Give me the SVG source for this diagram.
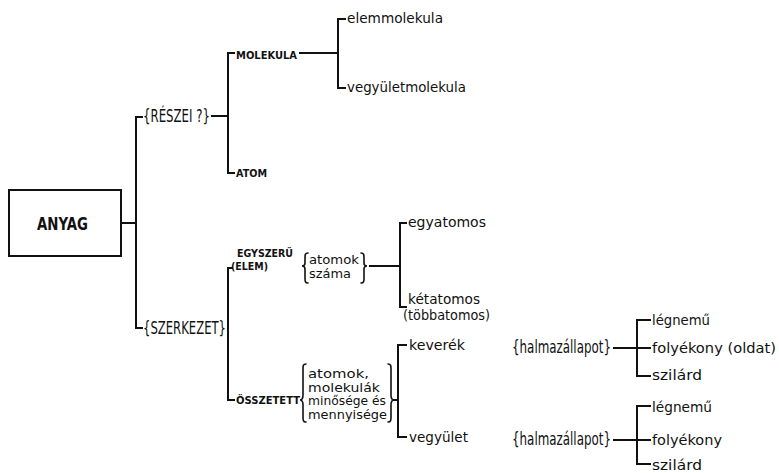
<svg xmlns="http://www.w3.org/2000/svg" width="779" height="473" viewBox="0 0 779 473">
<style>
.ln{fill:none;stroke:#111;stroke-width:2;stroke-linecap:square}
.br{fill:none;stroke:#111;stroke-width:1.6;stroke-linecap:round}
.cap{font-family:"DejaVu Sans","Liberation Sans",sans-serif;font-weight:bold;fill:#111}
.lo{font-family:"DejaVu Sans","Liberation Sans",sans-serif;fill:#111;font-size:14px}
.sm{font-family:"DejaVu Sans","Liberation Sans",sans-serif;fill:#111;font-size:11.6px}
.hd{font-family:"DejaVu Sans","Liberation Sans",sans-serif;fill:#111;font-size:17px}
</style>
<rect width="779" height="473" fill="#fff"/>
<g id="connectors">
<path class="ln" d="M121 223H136M136 117V328M136 117H142M136 328H142"/>
<path class="ln" d="M212 116H228M228 53V173M228 53H234M228 173H234"/>
<path class="ln" d="M300 53H338M338 19V88M338 19H345M338 88H345"/>
<path class="ln" d="M228 268V400M228 268H232M228 400H234"/>
<path class="ln" d="M370 266H400M400 223V307M400 223H406M400 307H406"/>
<path class="ln" d="M393 400H398M398 345V437M398 345H406M398 437H406"/>
<path class="ln" d="M614 348H650M637 320V376M637 320H650M637 376H650"/>
<path class="ln" d="M614 440H650M637 406V464M637 406H650M637 464H650"/>
</g>
<g id="anyag">
<rect x="9" y="190" width="112" height="66" fill="none" stroke="#111" stroke-width="2"/>
<text class="cap" x="37" y="230" font-size="17" textLength="51" lengthAdjust="spacingAndGlyphs">ANYAG</text>
</g>
<g id="reszei">
<text class="hd" x="143" y="122" textLength="67" lengthAdjust="spacingAndGlyphs">{RÉSZEI ?}</text>
</g>
<g id="molekula">
<text class="cap" x="236" y="59" font-size="11" textLength="61" lengthAdjust="spacingAndGlyphs">MOLEKULA</text>
</g>
<g id="elemmolekula">
<text class="lo" x="347" y="23" textLength="96" lengthAdjust="spacingAndGlyphs">elemmolekula</text>
</g>
<g id="vegyuletmolekula">
<text class="lo" x="347" y="92" textLength="119" lengthAdjust="spacingAndGlyphs">vegyületmolekula</text>
</g>
<g id="atom">
<text class="cap" x="236" y="177" font-size="11" textLength="31" lengthAdjust="spacingAndGlyphs">ATOM</text>
</g>
<g id="szerkezet">
<text class="hd" x="143" y="334" textLength="83" lengthAdjust="spacingAndGlyphs">{SZERKEZET}</text>
</g>
<g id="egyszeru">
<text class="cap" x="237" y="257" font-size="10" textLength="56" lengthAdjust="spacingAndGlyphs">EGYSZERŰ</text>
<text class="cap" x="231" y="270" font-size="10" textLength="37" lengthAdjust="spacingAndGlyphs">(ELEM)</text>
</g>
<g id="atomok-szama">
<path class="br" d="M308 253C305 253 305 255 305 258L305 263C305 265 304 266 302 266C304 266 305 267 305 269L305 278C305 281 305 283 308 283"/>
<text class="sm" x="309" y="264" textLength="50" lengthAdjust="spacingAndGlyphs">atomok</text>
<text class="sm" x="309" y="278" textLength="42" lengthAdjust="spacingAndGlyphs">száma</text>
<path class="br" d="M361 253C364 253 364 255 364 258L364 263C364 265 365 266 367 266C365 266 364 267 364 269L364 278C364 281 364 283 361 283"/>
</g>
<g id="egyatomos">
<text class="lo" x="408" y="227" textLength="78" lengthAdjust="spacingAndGlyphs">egyatomos</text>
</g>
<g id="ketatomos">
<text class="lo" x="408" y="304" textLength="72" lengthAdjust="spacingAndGlyphs">kétatomos</text>
<text class="lo" x="403" y="320" font-size="13" textLength="87" lengthAdjust="spacingAndGlyphs">(többatomos)</text>
</g>
<g id="osszetett">
<text class="cap" x="236" y="404" font-size="10" textLength="64" lengthAdjust="spacingAndGlyphs">ÖSSZETETT</text>
</g>
<g id="atomok-molekulak">
<path class="br" d="M306 364C303 364 303 366 303 369L303 395C303 398 302 400 300 400C302 400 303 402 303 405L303 417C303 420 303 422 306 422"/>
<text class="sm" x="308" y="378" textLength="61" lengthAdjust="spacingAndGlyphs">atomok,</text>
<text class="sm" x="308" y="391.5" textLength="72" lengthAdjust="spacingAndGlyphs">molekulák</text>
<text class="sm" x="308" y="405" textLength="78" lengthAdjust="spacingAndGlyphs">minősége és</text>
<text class="sm" x="308" y="418.5" textLength="79" lengthAdjust="spacingAndGlyphs">mennyisége</text>
<path class="br" d="M388 364C391 364 391 366 391 369L391 395C391 398 392 400 394 400C392 400 391 402 391 405L391 417C391 420 391 422 388 422"/>
</g>
<g id="keverek">
<text class="lo" x="409" y="350" textLength="56" lengthAdjust="spacingAndGlyphs">keverék</text>
</g>
<g id="vegyulet">
<text class="lo" x="409" y="442" textLength="59" lengthAdjust="spacingAndGlyphs">vegyület</text>
</g>
<g id="halmaz1">
<text class="hd" x="512" y="353" textLength="99" lengthAdjust="spacingAndGlyphs">{halmazállapot}</text>
</g>
<g id="halmaz2">
<text class="hd" x="512" y="445" textLength="99" lengthAdjust="spacingAndGlyphs">{halmazállapot}</text>
</g>
<g id="legnemu1"><text class="lo" x="652" y="325" textLength="58" lengthAdjust="spacingAndGlyphs">légnemű</text></g>
<g id="folyekony-oldat"><text class="lo" x="652" y="353" textLength="124" lengthAdjust="spacingAndGlyphs">folyékony (oldat)</text></g>
<g id="szilard1"><text class="lo" x="652" y="380" textLength="50" lengthAdjust="spacingAndGlyphs">szilárd</text></g>
<g id="legnemu2"><text class="lo" x="652" y="412" textLength="60" lengthAdjust="spacingAndGlyphs">légnemű</text></g>
<g id="folyekony"><text class="lo" x="652" y="445" textLength="70" lengthAdjust="spacingAndGlyphs">folyékony</text></g>
<g id="szilard2"><text class="lo" x="652" y="470" textLength="50" lengthAdjust="spacingAndGlyphs">szilárd</text></g>
</svg>
